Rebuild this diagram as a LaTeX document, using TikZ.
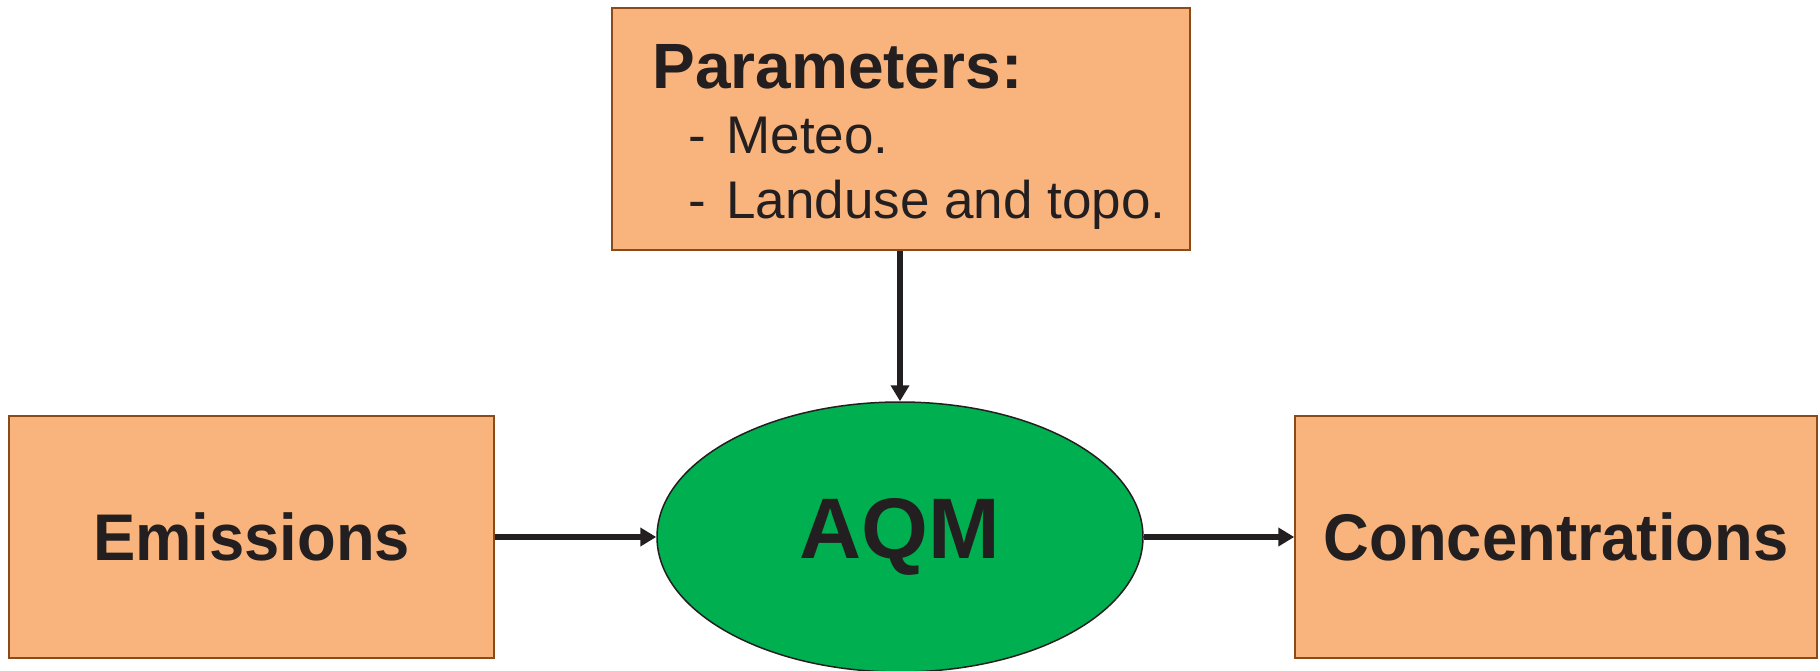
\documentclass[tikz,border=0pt]{standalone}
\usepackage{fontspec}
\setmainfont{Liberation Sans}
\newfontfamily\narrowsans[FakeStretch=0.96]{Liberation Sans}
\usetikzlibrary{shapes.geometric,arrows.meta}
\definecolor{peach}{HTML}{F8B47C}
\definecolor{peachline}{HTML}{8B4A1A}
\definecolor{aqmgreen}{HTML}{00AF50}
\definecolor{ink}{HTML}{231F20}
\tikzset{
  box/.style={draw=peachline, fill=peach, line width=1.5pt, rectangle, inner sep=0pt, text=ink},
  aqmnode/.style={draw=ink, fill=aqmgreen, line width=1.5pt, ellipse, inner sep=0pt, text=ink},
  flow/.style={draw=ink, line width=5.5pt, -{Triangle[length=16pt,width=18pt]}},
  bigbold/.style={font=\narrowsans\fontsize{66}{70}\selectfont\bfseries}
}
\begin{document}
\begin{tikzpicture}[x=1pt,y=-1pt]
\useasboundingbox (0,0) rectangle (1820,671);
\node[box, minimum width=578pt, minimum height=242pt] (params) at (901,129) {};
\node[text=ink, inner sep=0pt, align=left, font=\fontsize{53}{65}\selectfont]
  (ptext) at ([shift={(8,8)}]params.center)
  {{\fontsize{64}{65}\selectfont\bfseries Parameters:}\\
   \hspace*{36pt}\makebox[38pt][l]{-}Meteo.\\
   \hspace*{36pt}\makebox[38pt][l]{-}Landuse and topo.};
\node[box, bigbold, minimum width=485pt, minimum height=242pt] (emis) at (251.5,537) {Emissions};
\node[box, bigbold, minimum width=522pt, minimum height=242pt] (conc) at (1556,537) {Concentrations};
\node[aqmnode, minimum width=486pt, minimum height=270pt,
      font=\fontsize{86}{90}\selectfont\bfseries] (aqm) at (900,537) {AQM};
\draw[flow] (aqm.north |- params.south) -- (aqm.north);
\draw[flow] (emis.east) -- (aqm.west);
\draw[flow] (aqm.east) -- (conc.west);
\end{tikzpicture}
\end{document}
